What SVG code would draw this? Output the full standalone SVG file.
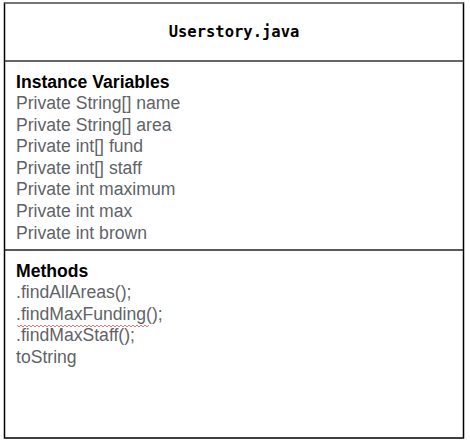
<svg xmlns="http://www.w3.org/2000/svg" width="470" height="441" viewBox="0 0 470 441">
<style>
.h{font-family:"Liberation Sans",Arial,sans-serif;font-size:17.6px;font-weight:bold;fill:#000}
.t{font-family:"Liberation Sans",Arial,sans-serif;font-size:17.6px;fill:#5f6368}
.title{font-family:"DejaVu Sans Mono",monospace;font-size:15.5px;font-weight:bold;fill:#000}
</style>
<rect width="470" height="441" fill="#fff"/>
<g id="class-userstory">
<rect x="4.5" y="3" width="459" height="435" fill="#fff" stroke="#000" stroke-width="1.5"/>
<line x1="4.5" y1="3" x2="463.5" y2="3" stroke="#888" stroke-width="1.5"/>
<line x1="4.5" y1="61" x2="463.5" y2="61" stroke="#333" stroke-width="1.5"/>
<line x1="4.5" y1="250" x2="463.5" y2="250" stroke="#222" stroke-width="1.5"/>
<text class="title" x="234" y="37" text-anchor="middle">Userstory.java</text>
<text class="h" x="16" y="88">Instance Variables</text>
<text class="t" x="16" y="109">Private String[] name</text>
<text class="t" x="16" y="131">Private String[] area</text>
<text class="t" x="16" y="152">Private int[] fund</text>
<text class="t" x="16" y="174">Private int[] staff</text>
<text class="t" x="16" y="195">Private int maximum</text>
<text class="t" x="16" y="217">Private int max</text>
<text class="t" x="16" y="239">Private int brown</text>
<text class="h" x="16" y="277">Methods</text>
<text class="t" x="16" y="298">.findAllAreas();</text>
<text class="t" x="16" y="320">.findMaxFunding();</text>
<text class="t" x="16" y="341">.findMaxStaff();</text>
<text class="t" x="16" y="363">toString</text>
<path d="M17 325 l2 2 l2 -2 l2 2 l2 -2 l2 2 l2 -2 l2 2 l2 -2 l2 2 l2 -2 l2 2 l2 -2 l2 2 l2 -2 l2 2 l2 -2 l2 2 l2 -2 l2 2 l2 -2 l2 2 l2 -2 l2 2 l2 -2 l2 2 l2 -2 l2 2 l2 -2 l2 2 l2 -2 l2 2 l2 -2 l2 2 l2 -2 l2 2 l2 -2 l2 2 l2 -2 l2 2 l2 -2 l2 2 l2 -2 l2 2 l2 -2 l2 2 l2 -2 l2 2 l2 -2 l2 2 l2 -2 l2 2 l2 -2 l2 2 l2 -2 l2 2 l2 -2 l2 2 l2 -2 l2 2 l2 -2 l2 2 l2 -2 l2 2 l2 -2 l2 2 l2 -2" fill="none" stroke="#e05050" stroke-width="0.8"/>
</g>
<g id="connectors"/>
</svg>
